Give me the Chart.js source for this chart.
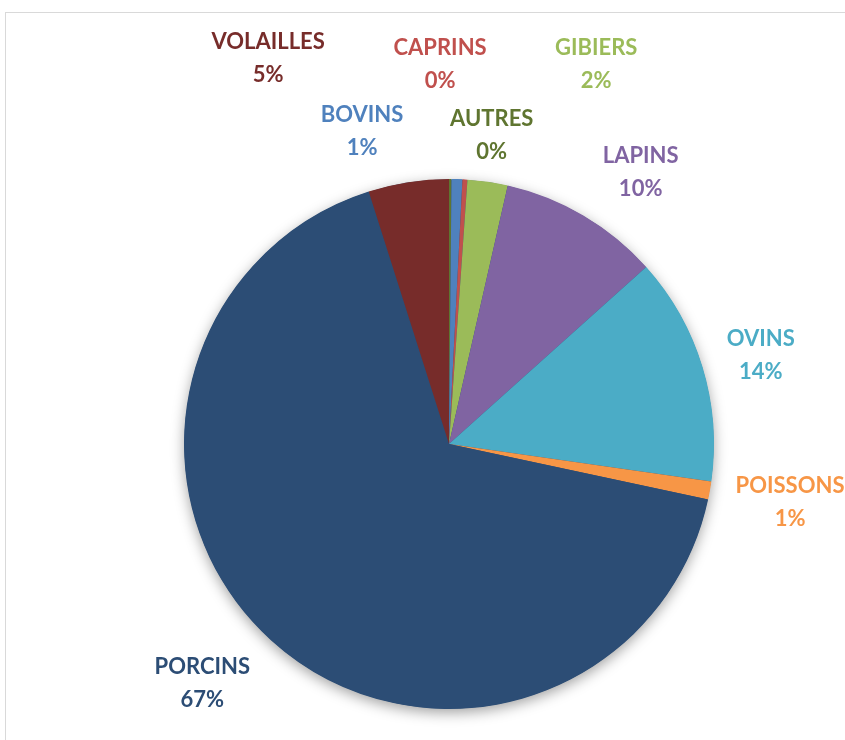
<!DOCTYPE html>
<html>
<head>
<meta charset="utf-8">
<script src="https://cdn.jsdelivr.net/npm/chart.js@4/dist/chart.umd.min.js"></script>
<style>
  html, body { margin: 0; padding: 0; background: #fff; }
</style>
</head>
<body>
<canvas id="pie" width="845" height="740"></canvas>
<script>
// parts in % (clockwise from 12 o'clock)
const categories = ['AUTRES', 'BOVINS', 'CAPRINS', 'GIBIERS', 'LAPINS', 'OVINS', 'POISSONS', 'PORCINS', 'VOLAILLES']
const shares = [0.15, 0.66, 0.3, 2.45, 9.8, 13.9, 1.1, 66.74, 4.9]
const colors = ['#5F7530', '#4F81BD', '#C0504D', '#9BBB59', '#8064A2', '#4BACC6', '#F79646', '#2C4D75', '#772C2A']

// where each label sits: angle shift from slice middle (deg) and distance from centre (px)
const labelShift = [7.6, -17.3, -4.8, 12.8, 4.8, 1.1, -0.4, 3.6, -16.3]
const labelDist = [312, 324, 380, 407, 332, 324, 346, 344, 426]

const frame = {
  id: 'frame',
  beforeDraw(chart) {
    const c = chart.ctx
    c.save()
    c.strokeStyle = '#d9d9d9'
    c.lineWidth = 1
    c.strokeRect(5.5, 12.5, 1000, 1000)
    c.restore()
  }
}

const shadow = {
  id: 'shadow',
  beforeDatasetsDraw(chart) {
    const arc = chart.getDatasetMeta(0).data[0]
    if (!arc) return
    const c = chart.ctx
    c.save()
    c.shadowColor = 'rgba(0,0,0,0.38)'
    c.shadowBlur = 14
    c.shadowOffsetY = 4
    c.fillStyle = '#2C4D75'
    c.beginPath()
    c.arc(arc.x, arc.y, arc.outerRadius - 0.5, 0, Math.PI * 2)
    c.fill()
    c.restore()
  }
}

const labels = {
  id: 'labels',
  afterDatasetsDraw(chart) {
    const c = chart.ctx
    const total = shares.reduce((a, b) => a + b, 0)
    c.save()
    c.font = 'bold 22px Lato'
    c.textAlign = 'center'
    c.textBaseline = 'middle'
    chart.getDatasetMeta(0).data.forEach((arc, i) => {
      const mid = (arc.startAngle + arc.endAngle) / 2 + labelShift[i] * Math.PI / 180
      const x = arc.x + Math.cos(mid) * labelDist[i]
      const y = arc.y + Math.sin(mid) * labelDist[i]
      c.fillStyle = colors[i]
      c.fillText(categories[i], x, y - 16.5)
      c.fillText(Math.round(shares[i] / total * 100) + '%', x, y + 16.5)
    })
    c.restore()
  }
}

const ctx = document.getElementById('pie').getContext('2d')

new Chart(ctx, {
  type: 'pie',
  data: {
    labels: categories,
    datasets: [{
      data: shares,
      backgroundColor: colors,
      borderWidth: 0
    }]
  },
  options: {
    responsive: false,
    animation: false,
    layout: {
      padding: { left: 184, right: 131, top: 179, bottom: 31 }
    },
    plugins: {
      legend: { display: false },
      tooltip: { enabled: false }
    }
  },
  plugins: [frame, shadow, labels]
})
</script>
</body>
</html>
